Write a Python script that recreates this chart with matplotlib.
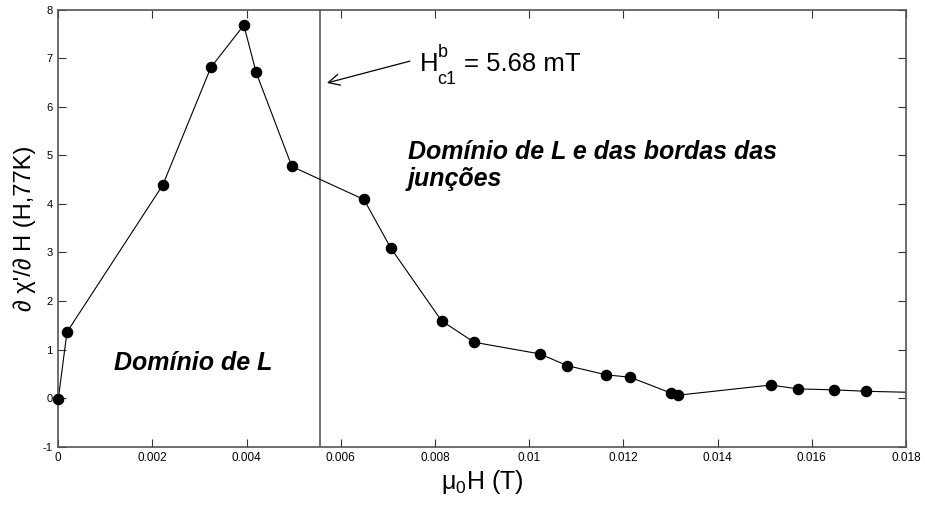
import matplotlib
matplotlib.use("Agg")
import matplotlib.pyplot as plt

plt.rcParams['axes.unicode_minus'] = False

field_T = [0.0000, 0.000185, 0.00222, 0.00324, 0.00394, 0.00420, 0.00496,
           0.00649, 0.00706, 0.00814, 0.00883, 0.01023, 0.01080, 0.01163,
           0.01214, 0.01302, 0.01316, 0.01513, 0.01570, 0.01647, 0.01716, 0.0185]
dchi = [-0.02, 1.36, 4.39, 6.81, 7.68, 6.71, 4.77,
        4.09, 3.09, 1.59, 1.15, 0.91, 0.67, 0.48,
        0.43, 0.10, 0.06, 0.27, 0.19, 0.17, 0.14, 0.11]
hc1 = 0.00556
xticks = [0, 0.002, 0.004, 0.006, 0.008, 0.01, 0.012, 0.014, 0.016, 0.018]
xticklabels = ["0", "0.002", "0.004", "0.006", "0.008", "0.01", "0.012", "0.014", "0.016", "0.018"]
yticks = [-1, 0, 1, 2, 3, 4, 5, 6, 7, 8]
yticklabels = ["-1", "0", "1", "2", "3", "4", "5", "6", "7", "8"]

SANS = ['Liberation Sans', 'DejaVu Sans']
NARROW = ['Liberation Sans Narrow', 'Liberation Sans', 'DejaVu Sans']

fig = plt.figure(figsize=(9.25, 5.07), dpi=100)
ax = fig.add_axes([0.063, 0.119, 0.9165, 0.862])

# connecting line (clipped) and markers (visible in range)
ax.plot(field_T, dchi, color='black', lw=0.8, clip_on=True, zorder=2)
ax.plot(field_T[:-1], dchi[:-1], linestyle='none', marker='o', ms=7.3,
        markerfacecolor='black', markeredgecolor='black', clip_on=False, zorder=3)
ax.axvline(hc1, color='#666666', lw=1.3, zorder=1)

ax.set_xlim(0, 0.018)
ax.set_ylim(-1, 8)
ax.set_xticks(xticks)
ax.set_xticklabels(xticklabels, family=NARROW, fontsize=8.5)
ax.set_yticks(yticks)
ax.set_yticklabels(yticklabels, family=SANS, fontsize=8)
ax.tick_params(direction='in', length=6, width=0.8, top=True, right=True,
               colors='#333333', labelcolor='black', pad=4)
for s in ax.spines.values():
    s.set_color('#555555')
    s.set_linewidth(1.2)

ax.set_xlabel(r'$\mathregular{\mu_0}$H (T)', fontsize=18, family=NARROW, labelpad=3)
ax.set_ylabel("∂ χ'/∂ H (H,77K)", fontsize=17, family=SANS, labelpad=5)

# H_c1^b annotation
ax.annotate('', xy=(0.005705, 6.49), xytext=(0.007467, 6.94),
            arrowprops=dict(arrowstyle='->', color='black', lw=0.9, mutation_scale=20,
                            shrinkA=0, shrinkB=0))
ax.text(0.00768, 6.735, 'H', fontsize=18.5, family=SANS, ha='left', va='baseline')
ax.text(0.00805, 7.03, 'b', fontsize=13, family=SANS, ha='left', va='baseline')
ax.text(0.00805, 6.47, 'c1', fontsize=13, family=SANS, ha='left', va='baseline')
ax.text(0.00862, 6.735, '= 5.68 mT', fontsize=18.5, family=SANS, ha='left', va='baseline')

ax.text(0.00742, 4.93, 'Domínio de L e das bordas das', fontsize=18,
        fontweight='bold', fontstyle='italic', family=SANS, ha='left', va='baseline')
ax.text(0.00742, 4.37, 'junções', fontsize=18,
        fontweight='bold', fontstyle='italic', family=SANS, ha='left', va='baseline')
ax.text(0.00118, 0.57, 'Domínio de L', fontsize=18, fontweight='bold', fontstyle='italic',
        family=SANS, ha='left', va='baseline')

fig.savefig('out.png', dpi=100)
